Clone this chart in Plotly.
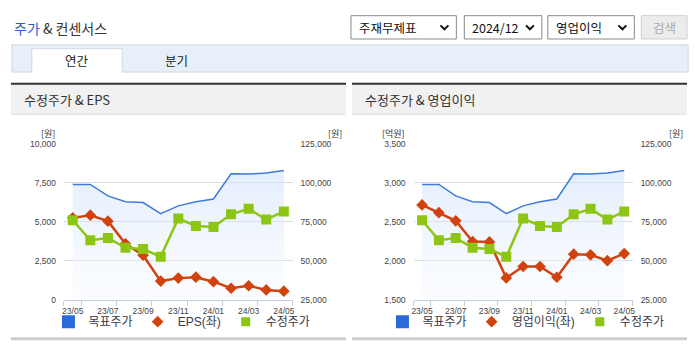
import plotly.graph_objects as go

W, H = 695, 349

# ---------------- data ----------------
months = ["23/05", "23/06", "23/07", "23/08", "23/09", "23/10", "23/11",
          "23/12", "24/01", "24/02", "24/03", "24/04", "24/05"]
target_price = [99000, 99000, 91600, 87900, 87300, 80200, 85200,
                87900, 89600, 105800, 105600, 106300, 107900]   # 목표주가 (원)
adj_price = [76000, 63100, 64600, 58300, 57500, 52500, 77100,
             72300, 71600, 79800, 83300, 76400, 81600]          # 수정주가 (원)
eps = [5250, 5420, 5040, 3580, 2850, 1190, 1380,
       1440, 1150, 730, 890, 620, 540]                            # EPS (원)
op_profit = [2716, 2616, 2512, 2245, 2241, 1779, 1925,
             1925, 1787, 2083, 2075, 2000, 2091]                  # 영업이익 (억원)

label_every = 2
price_ticks = [25000, 50000, 75000, 100000, 125000]
eps_ticks = [0, 2500, 5000, 7500, 10000]
op_ticks = [1500, 2000, 2500, 3000, 3500]

# ---------------- helpers ----------------
def X(px):
    return px / W

def Y(py):
    return 1 - py / H

xs = list(range(len(months)))
label_idx = xs[::label_every]
label_txt = [months[i] for i in label_idx]
bounds = [-0.5] + [i + 0.5 for i in label_idx[:-1]] + [len(months) - 0.5]

BLUE = "#3f7bdc"
BLUE_LEG = "#2a6bd9"
RED = "#d2420f"
GREEN = "#8cc512"
AXC = "#c3cddc"
GRID = "#dcdcdc"
KFONT = "Noto Sans CJK KR"
NFONT = "Liberation Sans, Noto Sans CJK KR"
TICKFONT = dict(family=NFONT, size=8.5, color="#444")

fig = go.Figure()

def add_chart(xa, y_base, y_left, y_hid, left_vals, left_name, legend_id):
    # target price with gradient fill (right scale)
    fig.add_trace(go.Scatter(
        x=xs, y=target_price, xaxis=xa, yaxis=y_base, mode="lines",
        line=dict(color=BLUE, width=1.5), fill="tozeroy",
        fillgradient=dict(type="vertical", start=25000, stop=max(target_price),
                          colorscale=[[0, "rgba(246,250,255,0.35)"],
                                      [1, "rgba(205,224,250,0.55)"]]),
        showlegend=False, hoverinfo="skip"))
    # left-scale series
    fig.add_trace(go.Scatter(
        x=xs, y=left_vals, xaxis=xa, yaxis=y_left, mode="lines+markers",
        line=dict(color=RED, width=2.5),
        marker=dict(symbol="diamond", size=9, color=RED),
        showlegend=False))
    # adjusted price (right scale, on top)
    fig.add_trace(go.Scatter(
        x=xs, y=adj_price, xaxis=xa, yaxis=y_hid, mode="lines+markers",
        line=dict(color=GREEN, width=2.5),
        marker=dict(symbol="square", size=10, color=GREEN),
        showlegend=False))
    # legend proxies
    fig.add_trace(go.Scatter(x=[None], y=[None], xaxis=xa, yaxis=y_base, mode="markers",
                             marker=dict(symbol="square", size=13, color=BLUE_LEG),
                             name="목표주가", legend=legend_id))
    fig.add_trace(go.Scatter(x=[None], y=[None], xaxis=xa, yaxis=y_base, mode="markers",
                             marker=dict(symbol="diamond", size=9, color=RED),
                             name=left_name, legend=legend_id))
    fig.add_trace(go.Scatter(x=[None], y=[None], xaxis=xa, yaxis=y_base, mode="markers",
                             marker=dict(symbol="square", size=9, color=GREEN),
                             name="수정주가", legend=legend_id))

add_chart("x", "y", "y2", "y3", eps, "EPS(좌)", "legend")
add_chart("x2", "y4", "y5", "y6", op_profit, "영업이익(좌)", "legend2")

ydom = [Y(303.3), Y(143)]

def xaxis_cfg(x0, x1, anchor):
    return dict(domain=[X(x0), X(x1)], range=[-0.5, len(months) - 0.5], anchor=anchor,
                tickmode="array", tickvals=label_idx, ticktext=label_txt, ticks="",
                showline=True, linecolor=AXC, linewidth=1, showgrid=False, zeroline=False,
                tickfont=TICKFONT, ticklabelstandoff=3,
                minor=dict(tickvals=bounds, ticks="outside", ticklen=5,
                           tickcolor=AXC, tickwidth=1, showgrid=False),
                fixedrange=True)

def ybase_cfg(anchor):
    return dict(domain=ydom, range=[25000, 125000], anchor=anchor, side="right",
                tickmode="array", tickvals=price_ticks, tickformat=",d", ticks="",
                showgrid=True, gridcolor=GRID, gridwidth=1, zeroline=False,
                showline=False, tickfont=TICKFONT, ticklabelstandoff=7, fixedrange=True)

def yleft_cfg(over, anchor, rng, vals):
    return dict(overlaying=over, anchor=anchor, side="left", range=rng,
                tickmode="array", tickvals=vals, tickformat=",d", ticks="",
                showgrid=False, zeroline=False, showline=False,
                tickfont=TICKFONT, ticklabelstandoff=7, fixedrange=True)

def yhid_cfg(over, anchor):
    return dict(overlaying=over, anchor=anchor, range=[25000, 125000], visible=False,
                fixedrange=True)

# ---------------- page decorations ----------------
shapes = []
annotations = []

def rect(x0, y0, x1, y1, fill, line="rgba(0,0,0,0)", lw=1, layer="below"):
    shapes.append(dict(type="rect", xref="paper", yref="paper",
                       x0=X(x0), x1=X(x1), y0=Y(y1), y1=Y(y0),
                       fillcolor=fill, line=dict(color=line, width=lw), layer=layer))

def hline(x0, x1, y, color, lw):
    shapes.append(dict(type="line", xref="paper", yref="paper",
                       x0=X(x0), x1=X(x1), y0=Y(y), y1=Y(y),
                       line=dict(color=color, width=lw), layer="below"))

def text(x, y, s, size, color="#333", xanchor="left", family=KFONT):
    annotations.append(dict(x=X(x), y=Y(y), xref="paper", yref="paper", text=s,
                            showarrow=False, xanchor=xanchor, yanchor="middle",
                            font=dict(size=size, color=color, family=family)))

def chevron(cx, cy):
    pts = [(cx - 4, cy - 2), (cx, cy + 2), (cx + 4, cy - 2)]
    path = "M " + " L ".join(f"{X(a):.5f},{Y(b):.5f}" for a, b in pts)
    shapes.append(dict(type="path", xref="paper", yref="paper", path=path,
                       line=dict(color="#111", width=2)))

# title
text(10, 24, "<span style='color:#2962c6'>주가</span> & 컨센서스", 14, "#333")

# selects
for (x0, x1, label) in [(351, 457, "주재무제표"), (465, 543, "2024/12"), (549, 636, "영업이익")]:
    rect(x0, 11, x1, 35, "white", "#8a8a8a", 1)
    text(x0 + 6, 23, label, 12.5, "#111")
    chevron(x1 - 12, 23)
rect(643, 11, 689, 35, "#ececec", "#cfcfcf", 1)
text(666, 23, "검색", 12.5, "#a8a8a8", xanchor="center")

# tabs
rect(10, 41, 690, 69, "#e9eff8", "#cdd7e6", 1)
rect(30, 45, 121, 69, "white", "#cdd7e6", 1)
hline(30.5, 120.5, 69, "white", 2)
text(75.5, 57.5, "연간", 12.5, "#222", xanchor="center")
text(176, 57.5, "분기", 12.5, "#222", xanchor="center")

# panels
for (x0, x1, title) in [(9, 346, "수정주가 & EPS"), (352, 689, "수정주가 & 영업이익")]:
    rect(x0, 82, x1, 112, "#f1f1f1")
    hline(x0, x1, 81, "#333333", 2)
    hline(x0, x1, 112.5, "#dddddd", 1)
    hline(x0, x1, 343.5, "#cccccc", 3)
    text(x0 + 11, 97, title, 13, "#333")

# axis unit labels
text(46, 132, "[원]", 9, "#333", xanchor="center")
text(335, 132, "[원]", 9, "#333", xanchor="center")
text(394, 132, "[억원]", 9, "#333", xanchor="center")
text(678, 132, "[원]", 9, "#333", xanchor="center")

legend_common = dict(orientation="h", xanchor="center", yanchor="middle", y=Y(326),
                     font=dict(size=12, color="#3a3a4a", family=NFONT),
                     bgcolor="rgba(0,0,0,0)", itemclick=False, itemdoubleclick=False,
                     tracegroupgap=0)

fig.update_layout(
    width=W, height=H, margin=dict(l=0, r=0, t=0, b=0),
    paper_bgcolor="white", plot_bgcolor="rgba(0,0,0,0)",
    xaxis=xaxis_cfg(62.3, 292.3, "y"),
    yaxis=ybase_cfg("x"),
    yaxis2=yleft_cfg("y", "x", [0, 10000], eps_ticks),
    yaxis3=yhid_cfg("y", "x"),
    xaxis2=xaxis_cfg(414, 634.3, "y4"),
    yaxis4=ybase_cfg("x2"),
    yaxis5=yleft_cfg("y4", "x2", [1500, 3500], op_ticks),
    yaxis6=yhid_cfg("y4", "x2"),
    legend=dict(x=X(181), **legend_common),
    legend2=dict(x=X(527), **legend_common),
    shapes=shapes, annotations=annotations,
    hovermode=False, showlegend=True,
)

fig.write_html("out.html", config=dict(displayModeBar=False))
